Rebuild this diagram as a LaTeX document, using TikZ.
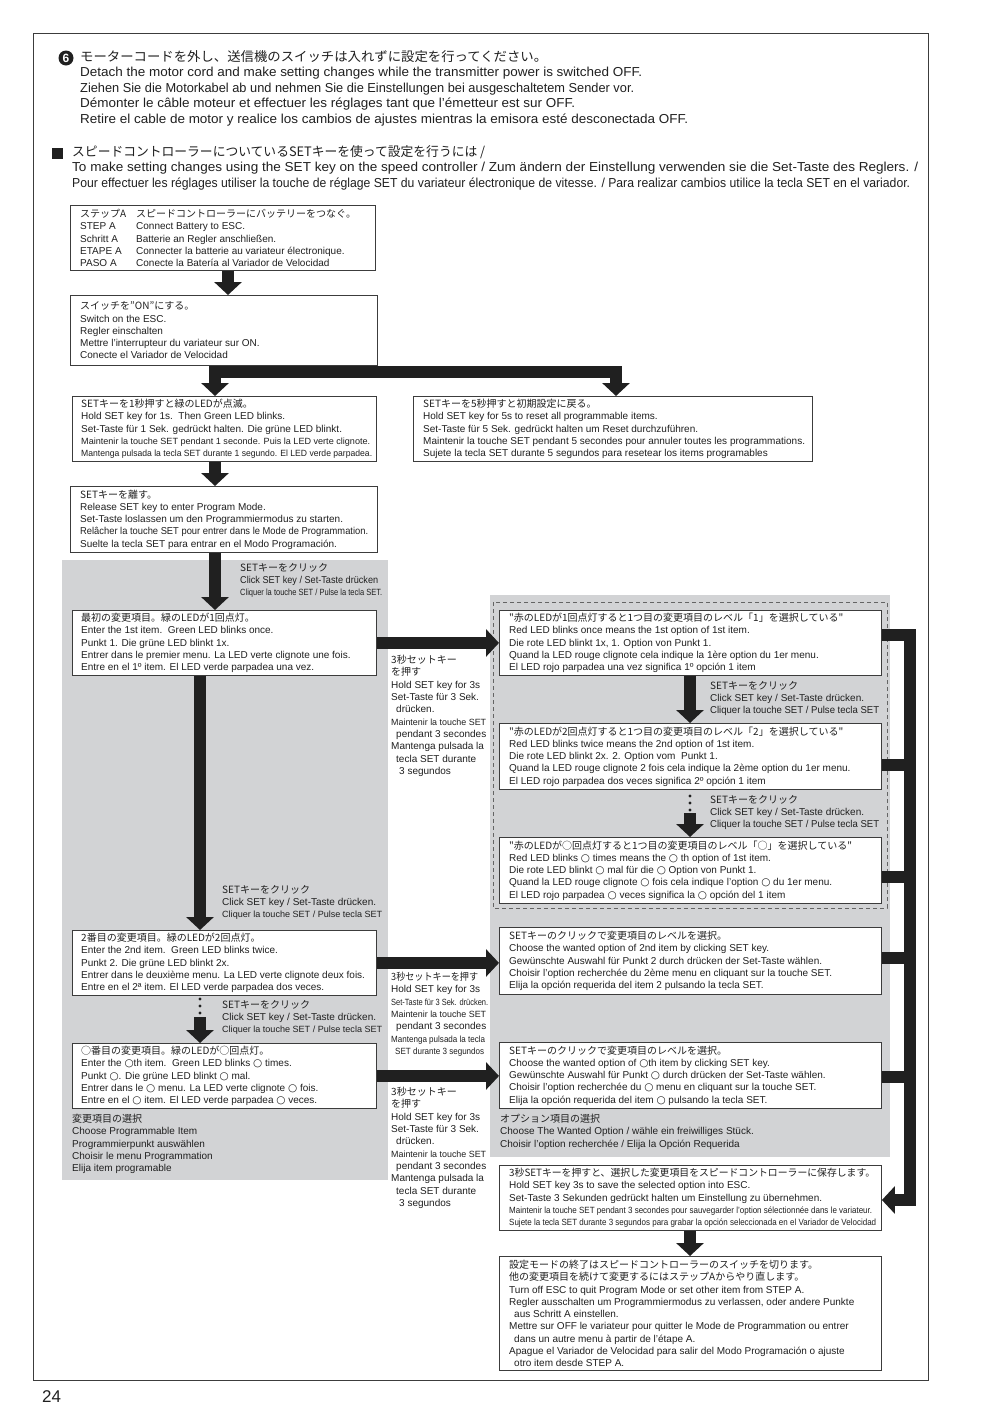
\documentclass[tikz,border=0pt]{standalone}
\usepackage{fontspec}
\usepackage{graphicx}
\setmainfont{Liberation Sans}
\newfontfamily\jp{Noto Sans CJK JP}
\newfontfamily\djv{DejaVu Sans}
\usetikzlibrary{arrows.meta,calc}
\definecolor{band}{RGB}{210,211,213}
\definecolor{ink}{RGB}{32,32,32}
\definecolor{edge}{RGB}{60,60,60}
\definecolor{dashc}{RGB}{100,100,100}
\newcommand{\fs}{\fontsize{10}{12.3}\selectfont}
\newcommand{\fh}{\fontsize{13}{15.6}\selectfont}
\newcommand{\fsm}{\fontsize{9}{12.3}\selectfont}
\newcommand{\fw}[2]{{\fsm\resizebox{#1pt}{\height}{#2}}}
\newcommand{\hw}[2]{\resizebox{#1pt}{\height}{#2}}
\newcommand{\cc}{{\djv\fontsize{10.5}{10}\selectfont ○}}
\begin{document}
\begin{tikzpicture}[x=1pt,y=-1pt,
  box/.style={draw=edge, line width=0.9pt, fill=white, anchor=north west, inner sep=0pt},
  txt/.style={anchor=west, inner sep=0pt, align=left, font=\fs, text=ink},
  lbl/.style={anchor=north west, inner sep=0pt, align=left, font=\fs, text=ink},
  bigarrow/.style={draw=ink, line width=12pt, -{Triangle[width=27pt,length=13pt]}},
  bar/.style={draw=ink, line width=12pt}]
\useasboundingbox (0,0) rectangle (1000,1414);
\fill[white] (0,0) rectangle (1000,1414);
\draw[edge, line width=1pt] (33,33) rectangle (928,1380);

% ---------- header ----------
\node[circle, fill=ink, text=white, inner sep=0pt, minimum size=15pt, font=\fontsize{12}{12}\selectfont\bfseries] (six) at (66,58) {6};
\node[lbl, font=\fh] (head) at (80,50) {\hw{467}{\jp モーターコードを外し、送信機のスイッチは入れずに設定を行ってください。}\\
\hw{562}{Detach the motor cord and make setting changes while the transmitter power is switched OFF.}\\
\hw{554}{Ziehen Sie die Motorkabel ab und nehmen Sie die Einstellungen bei ausgeschaltetem Sender vor.}\\
\hw{495}{Démonter le câble moteur et effectuer les réglages tant que l'émetteur est sur OFF.}\\
\hw{608}{Retire el cable de motor y realice los cambios de ajustes mientras la emisora esté desconectada OFF.}};
\node[fill=ink, minimum size=11pt, inner sep=0pt] (sq) at (57,153) {};
\node[lbl, font=\fh] (head2) at (72,145) {\hw{413}{\jp スピードコントローラーについているSETキーを使って設定を行うには /}\\
\hw{846}{To make setting changes using the SET key on the speed controller / Zum ändern der Einstellung verwenden sie die Set-Taste des Reglers. /}\\
\hw{838}{Pour effectuer les réglages utiliser la touche de réglage SET du variateur électronique de vitesse. / Para realizar cambios utilice la tecla SET en el variador.}};

% ---------- background bands ----------
\fill[band] (62,560) rectangle (388,1180);
\fill[band] (490,595) rectangle (890,1157);
\draw[dashc, line width=1pt, dash pattern=on 4pt off 3pt] (493,602) rectangle (887,908);

% ---------- left column boxes ----------
\node[box, minimum width=305pt, minimum height=65pt] (sa) at (70,205) {};
\node[txt] (sat) at ([xshift=10pt]sa.west) {\makebox[56pt][l]{\jp ステップA}{\jp スピードコントローラーにバッテリーをつなぐ。}\\
\makebox[56pt][l]{STEP A}Connect Battery to ESC.\\
\makebox[56pt][l]{Schritt A}Batterie an Regler anschließen.\\
\makebox[56pt][l]{ETAPE A}Connecter la batterie au variateur électronique.\\
\makebox[56pt][l]{PASO A}Conecte la Batería al Variador de Velocidad};

\node[box, minimum width=307pt, minimum height=70pt] (sw) at (70,295) {};
\node[txt] (swt) at ([xshift=10pt]sw.west) {{\jp スイッチを”ON”にする。}\\
Switch on the ESC.\\
Regler einschalten\\
Mettre l'interrupteur du variateur sur ON.\\
Conecte el Variador de Velocidad};

\node[box, minimum width=304pt, minimum height=65pt] (s1) at (72,396) {};
\node[txt] (s1t) at ([xshift=9pt]s1.west) {{\jp SETキーを1秒押すと緑のLEDが点滅。}\\
Hold SET key for 1s.\ \ Then Green LED blinks.\\
Set-Taste für 1 Sek. gedrückt halten. Die grüne LED blinkt.\\
\fw{289}{Maintenir la touche SET pendant 1 seconde. Puis la LED verte clignote.}\\
\fw{291}{Mantenga pulsada la tecla SET durante 1 segundo. El LED verde parpadea.}};

\node[box, minimum width=399pt, minimum height=65pt] (s5) at (413,396) {};
\node[txt] (s5t) at ([xshift=10pt]s5.west) {{\jp SETキーを5秒押すと初期設定に戻る。}\\
Hold SET key for 5s to reset all programmable items.\\
Set-Taste für 5 Sek. gedrückt halten um Reset durchzuführen.\\
Maintenir la touche SET pendant 5 secondes pour annuler toutes les programmations.\\
Sujete la tecla SET durante 5 segundos para resetear los items programables};

\node[box, minimum width=307pt, minimum height=66pt] (rel) at (70,486) {};
\node[txt] (relt) at ([xshift=10pt]rel.west) {{\jp SETキーを離す。}\\
Release SET key to enter Program Mode.\\
Set-Taste loslassen um den Programmiermodus zu starten.\\
\hw{288}{Relâcher la touche SET pour entrer dans le Mode de Programmation.}\\
Suelte la tecla SET para entrar en el Modo Programación.};

\node[box, minimum width=304pt, minimum height=65pt] (i1) at (72,610) {};
\node[txt] (i1t) at ([xshift=9pt]i1.west) {{\jp 最初の変更項目。緑のLEDが1回点灯。}\\
Enter the 1st item.\ \ Green LED blinks once.\\
Punkt 1. Die grüne LED blinkt 1x.\\
Entrer dans le premier menu. La LED verte clignote une fois.\\
Entre en el 1º item. El LED verde parpadea una vez.};

\node[box, minimum width=304pt, minimum height=65pt] (i2) at (72,930) {};
\node[txt] (i2t) at ([xshift=9pt]i2.west) {{\jp 2番目の変更項目。緑のLEDが2回点灯。}\\
Enter the 2nd item.\ \ Green LED blinks twice.\\
Punkt 2. Die grüne LED blinkt 2x.\\
Entrer dans le deuxième menu. La LED verte clignote deux fois.\\
Entre en el 2ª item. El LED verde parpadea dos veces.};

\node[box, minimum width=304pt, minimum height=65pt] (in) at (72,1043) {};
\node[txt] (int) at ([xshift=9pt]in.west) {{\jp ○番目の変更項目。緑のLEDが○回点灯。}\\
Enter the \cc th item.\ \ Green LED blinks \cc\ times.\\
Punkt \cc. Die grüne LED blinkt \cc\ mal.\\
Entrer dans le \cc\ menu. La LED verte clignote \cc\ fois.\\
Entre en el \cc\ item. El LED verde parpadea \cc\ veces.};

\node[lbl] (capL) at (72,1114) {{\jp 変更項目の選択}\\
Choose Programmable Item\\
Programmierpunkt auswählen\\
Choisir le menu Programmation\\
Elija item programable};

% ---------- right column boxes ----------
\node[box, minimum width=382pt, minimum height=65pt] (r1) at (499,610) {};
\node[txt] (r1t) at ([xshift=10pt]r1.west) {{\jp "赤のLEDが1回点灯すると1つ目の変更項目のレベル「1」を選択している"}\\
Red LED blinks once means the 1st option of 1st item.\\
Die rote LED blinkt 1x, 1. Option von Punkt 1.\\
Quand la LED rouge clignote cela indique la 1ère option du 1er menu.\\
El LED rojo parpadea una vez significa 1º opción 1 item};

\node[box, minimum width=382pt, minimum height=66pt] (r2) at (499,723) {};
\node[txt] (r2t) at ([xshift=10pt]r2.west) {{\jp "赤のLEDが2回点灯すると1つ目の変更項目のレベル「2」を選択している"}\\
Red LED blinks twice means the 2nd option of 1st item.\\
Die rote LED blinkt 2x. 2. Option vom\ \ Punkt 1.\\
Quand la LED rouge clignote 2 fois cela indique la 2ème option du 1er menu.\\
El LED rojo parpadea dos veces significa 2º opción 1 item};

\node[box, minimum width=382pt, minimum height=66pt] (r3) at (499,837) {};
\node[txt] (r3t) at ([xshift=10pt]r3.west) {{\jp "赤のLEDが○回点灯すると1つ目の変更項目のレベル「○」を選択している"}\\
Red LED blinks \cc\ times means the \cc\ th option of 1st item.\\
Die rote LED blinkt \cc\ mal für die \cc\ Option von Punkt 1.\\
Quand la LED rouge clignote \cc\ fois cela indique l'option \cc\ du 1er menu.\\
El LED rojo parpadea \cc\ veces significa la \cc\ opción del 1 item};

\node[box, minimum width=382pt, minimum height=67pt] (r4) at (499,927) {};
\node[txt] (r4t) at ([xshift=10pt]r4.west) {{\jp SETキーのクリックで変更項目のレベルを選択。}\\
Choose the wanted option of 2nd item by clicking SET key.\\
Gewünschte Auswahl für Punkt 2 durch drücken der Set-Taste wählen.\\
Choisir l'option recherchée du 2ème menu en cliquant sur la touche SET.\\
Elija la opción requerida del item 2 pulsando la tecla SET.};

\node[box, minimum width=382pt, minimum height=66pt] (r5) at (499,1042) {};
\node[txt] (r5t) at ([xshift=10pt]r5.west) {{\jp SETキーのクリックで変更項目のレベルを選択。}\\
Choose the wanted option of \cc th item by clicking SET key.\\
Gewünschte Auswahl für Punkt \cc\ durch drücken der Set-Taste wählen.\\
Choisir l'option recherchée du \cc\ menu en cliquant sur la touche SET.\\
Elija la opción requerida del item \cc\ pulsando la tecla SET.};

\node[lbl] (capR) at (500,1114) {{\jp オプション項目の選択}\\
Choose The Wanted Option / wähle ein freiwilliges Stück.\\
Choisir l'option recherchée / Elija la Opción Requerida};

\node[box, minimum width=382pt, minimum height=65pt] (r6) at (499,1165) {};
\node[txt] (r6t) at ([xshift=10pt]r6.west) {\hw{366}{\jp 3秒SETキーを押すと、選択した変更項目をスピードコントローラーに保存します。}\\
Hold SET key 3s to save the selected option into ESC.\\
Set-Taste 3 Sekunden gedrückt halten um Einstellung zu übernehmen.\\
\fw{363}{Maintenir la touche SET pendant 3 secondes pour sauvegarder l'option sélectionnée dans le variateur.}\\
\fw{367}{Sujete la tecla SET durante 3 segundos para grabar la opción seleccionada en el Variador de Velocidad}};

\node[box, minimum width=382pt, minimum height=114pt] (r7) at (499,1256) {};
\node[txt] (r7t) at ([xshift=10pt]r7.west) {{\jp 設定モードの終了はスピードコントローラーのスイッチを切ります。}\\
{\jp 他の変更項目を続けて変更するにはステップAからやり直します。}\\
Turn off ESC to quit Program Mode or set other item from STEP A.\\
Regler ausschalten um Programmiermodus zu verlassen, oder andere Punkte\\
\hspace{5pt}aus Schritt A einstellen.\\
Mettre sur OFF le variateur pour quitter le Mode de Programmation ou entrer\\
\hspace{5pt}dans un autre menu à partir de l'étape A.\\
Apague el Variador de Velocidad para salir del Modo Programación o ajuste\\
\hspace{5pt}otro item desde STEP A.};

% ---------- connector labels ----------
\node[lbl] (lab1) at (240,563) {{\jp SETキーをクリック}\\
\hw{138}{Click SET key / Set-Taste drücken}\\
\fw{142}{Cliquer la touche SET / Pulse la tecla SET.}};
\node[lbl] (lab2) at (222,885) {{\jp SETキーをクリック}\\
Click SET key / Set-Taste drücken.\\
\fw{160}{Cliquer la touche SET / Pulse tecla SET}};
\node[lbl] (lab3) at (222,1000) {{\jp SETキーをクリック}\\
Click SET key / Set-Taste drücken.\\
\fw{160}{Cliquer la touche SET / Pulse tecla SET}};
\node[lbl] (lab4) at (391,655) {{\jp 3秒セットキー}\\
{\jp を押す}\\
Hold SET key for 3s\\
Set-Taste für 3 Sek.\\
\hspace{5pt}drücken.\\
\fw{95}{Maintenir la touche SET}\\
\hspace{5pt}pendant 3 secondes\\
Mantenga pulsada la\\
\hspace{5pt}tecla SET durante\\
\hspace{8pt}3 segundos};
\node[lbl] (lab5) at (391,972) {\hw{87}{\jp 3秒セットキーを押す}\\
Hold SET key for 3s\\
\fw{97}{Set-Taste für 3 Sek. drücken.}\\
\fw{95}{Maintenir la touche SET}\\
\hspace{5pt}pendant 3 secondes\\
\fw{94}{Mantenga pulsada la tecla}\\
\hspace{4pt}\fw{89}{SET durante 3 segundos}};
\node[lbl] (lab6) at (391,1087) {{\jp 3秒セットキー}\\
{\jp を押す}\\
Hold SET key for 3s\\
Set-Taste für 3 Sek.\\
\hspace{5pt}drücken.\\
\fw{95}{Maintenir la touche SET}\\
\hspace{5pt}pendant 3 secondes\\
Mantenga pulsada la\\
\hspace{5pt}tecla SET durante\\
\hspace{8pt}3 segundos};
\node[lbl] (rlab1) at (710,681) {{\jp SETキーをクリック}\\
Click SET key / Set-Taste drücken.\\
\hw{169}{Cliquer la touche SET / Pulse tecla SET}};
\node[lbl] (rlab2) at (710,795) {{\jp SETキーをクリック}\\
Click SET key / Set-Taste drücken.\\
\hw{169}{Cliquer la touche SET / Pulse tecla SET}};

% ---------- connectors ----------
\coordinate (xA) at (228,0);
\coordinate (xB) at (215,0);
\coordinate (xC) at (616,0);
\coordinate (xE) at (200,0);
\coordinate (xD) at (690,0);
\draw[bigarrow] (sa.south -| xA) -- (sw.north -| xA);
\draw[bigarrow] (sw.south -| xB) -- (s1.north -| xB);
\coordinate (j1) at (209,372);
\draw[bigarrow, line join=miter] (j1) -| (s5.north -| xC);
\draw[bigarrow] (s1.south -| xB) -- (rel.north -| xB);
\draw[bigarrow] (rel.south -| xB) -- (i1.north -| xB);
\draw[bigarrow] (i1.south -| xE) -- (i2.north -| xE);
\fill[ink] (200,999) circle (1.7pt) (200,1006) circle (1.7pt) (200,1013) circle (1.7pt);
\coordinate (d1) at (200,1017);
\draw[bigarrow] (d1) -- (in.north -| xE);
\draw[bigarrow] (i1.east) -- (r1.west);
\draw[bigarrow] (i2.east) -- (r4.west |- i2.east);
\draw[bigarrow] (in.east) -- (r5.west |- in.east);
\draw[bigarrow] (r1.south -| xD) -- (r2.north -| xD);
\fill[ink] (690,796) circle (1.7pt) (690,803) circle (1.7pt) (690,810) circle (1.7pt);
\coordinate (d2) at (690,813);
\draw[bigarrow] (d2) -- (r3.north -| xD);
\draw[bigarrow] (r6.south -| xD) -- (r7.north -| xD);
\coordinate (bt) at (910,635);
\coordinate (bb) at (910,1200);
\draw[bigarrow, line join=miter] (r1.east |- bt) -- (bt) -- (bb) -- (r6.east |- bb);
\coordinate (b2) at (910,765);
\coordinate (b3) at (910,877);
\coordinate (b4) at (910,958);
\coordinate (b5) at (910,1077);
\draw[bar] (r2.east |- b2) -- (b2);
\draw[bar] (r3.east |- b3) -- (b3);
\draw[bar] (r4.east |- b4) -- (b4);
\draw[bar] (r5.east |- b5) -- (b5);

\node[anchor=west, inner sep=0pt, font=\fontsize{17}{17}\selectfont, text=ink] (pg) at (42,1397) {24};
\end{tikzpicture}
\end{document}
